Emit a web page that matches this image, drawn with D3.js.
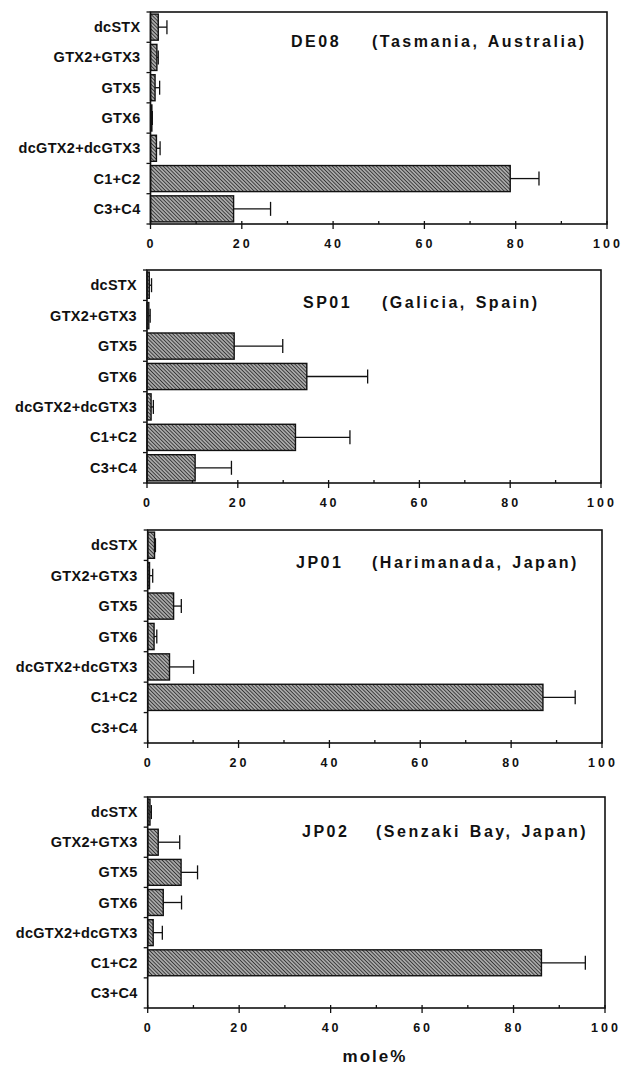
<!DOCTYPE html>
<html>
<head>
<meta charset="utf-8">
<script src="https://cdn.jsdelivr.net/npm/d3@7"></script>
<style>
  body { margin: 0; background: #fff; }
  svg { display: block; }
  text { font-family: "Liberation Sans", Arial, sans-serif; font-weight: bold; fill: #111; }
</style>
</head>
<body>
<div id="chart"></div>
<script>
// toxin profiles (mole%), mean and SD
var categories = ["dcSTX", "GTX2+GTX3", "GTX5", "GTX6", "dcGTX2+dcGTX3", "C1+C2", "C3+C4"];
var sites = ["DE08", "SP01", "JP01", "JP02"];
var locations = ["(Tasmania,  Australia)", "(Galicia,  Spain)", "(Harimanada,  Japan)", "(Senzaki  Bay,  Japan)"];

var de08Mean = [1.7, 1.4, 1.0, 0.3, 1.3, 78.8, 18.2];
var de08Sd   = [1.9, 0.3, 1.0, 0.1, 0.8, 6.3, 8.1];
var sp01Mean = [0.5, 0.4, 19.2, 35.2, 0.9, 32.7, 10.6];
var sp01Sd   = [0.5, 0.3, 10.7, 13.4, 0.5, 12.0, 8.0];
var jp01Mean = [1.5, 0.4, 5.7, 1.4, 4.8, 87.0, 0];
var jp01Sd   = [0.2, 0.7, 1.7, 0.6, 5.3, 7.1, 0];
var jp02Mean = [0.5, 2.3, 7.3, 3.4, 1.2, 86.1, 0];
var jp02Sd   = [0.3, 4.7, 3.6, 4.0, 2.0, 9.6, 0];

var xTicks = [0, 20, 40, 60, 80, 100];
var xMinorTicks = [10, 30, 50, 70, 90];

var means = [de08Mean, sp01Mean, jp01Mean, jp02Mean];
var sds = [de08Sd, sp01Sd, jp01Sd, jp02Sd];

// panel frames (scanned figure is slightly skewed, so each differs a bit)
var frames = [
  {left: 150.5, top: 12, right: 607, bottom: 224, codeX: 291, locX: 372, titleY: 47},
  {left: 147, top: 270, right: 601, bottom: 483, codeX: 303, locX: 382, titleY: 308},
  {left: 147.7, top: 530, right: 602, bottom: 743, codeX: 296, locX: 372, titleY: 568},
  {left: 147.7, top: 797, right: 605, bottom: 1008, codeX: 302, locX: 376, titleY: 837}
];

var svg = d3.select("#chart").append("svg")
  .attr("width", 623)
  .attr("height", 1067);

var defs = svg.append("defs");
var pat = defs.append("pattern")
  .attr("id", "hatch")
  .attr("patternUnits", "userSpaceOnUse")
  .attr("width", 2.6).attr("height", 2.6)
  .attr("patternTransform", "rotate(-45)");
pat.append("rect").attr("width", 2.6).attr("height", 2.6).attr("fill", "#a8a8a8");
pat.append("line").attr("x1", 0).attr("y1", 0).attr("x2", 0).attr("y2", 2.6)
  .attr("stroke", "#222").attr("stroke-width", 1.5);

frames.forEach(function (f, p) {
  var x = d3.scaleLinear().domain([0, 100]).range([f.left, f.right]);
  var y = d3.scaleBand().domain(categories).range([f.top, f.bottom]).paddingInner(0.14).paddingOuter(0.07);
  var yb = d3.scaleBand().domain(categories).range([f.top, f.bottom]);

  var g = svg.append("g").attr("class", "panel");

  var rows = categories.map(function (c, i) {
    return {cat: c, mean: means[p][i], sd: sds[p][i]};
  });

  // bars
  g.selectAll(".bar").data(rows.filter(function (d) { return d.mean > 0; }))
    .enter().append("rect")
    .attr("class", "bar")
    .attr("x", x(0))
    .attr("y", function (d) { return y(d.cat); })
    .attr("width", function (d) { return x(d.mean) - x(0); })
    .attr("height", y.bandwidth())
    .attr("fill", "url(#hatch)")
    .attr("stroke", "#111")
    .attr("stroke-width", 1.4);

  // error bars
  var err = g.selectAll(".err").data(rows.filter(function (d) { return d.sd > 0; }))
    .enter().append("g").attr("class", "err");
  err.append("line")
    .attr("x1", function (d) { return x(d.mean); })
    .attr("x2", function (d) { return x(d.mean + d.sd); })
    .attr("y1", function (d) { return y(d.cat) + y.bandwidth() / 2; })
    .attr("y2", function (d) { return y(d.cat) + y.bandwidth() / 2; })
    .attr("stroke", "#111").attr("stroke-width", 1.3);
  err.append("line")
    .attr("x1", function (d) { return x(d.mean + d.sd); })
    .attr("x2", function (d) { return x(d.mean + d.sd); })
    .attr("y1", function (d) { return y(d.cat) + y.bandwidth() / 2 - 7; })
    .attr("y2", function (d) { return y(d.cat) + y.bandwidth() / 2 + 7; })
    .attr("stroke", "#111").attr("stroke-width", 1.3);

  // frame
  g.append("rect")
    .attr("x", f.left).attr("y", f.top)
    .attr("width", f.right - f.left).attr("height", f.bottom - f.top)
    .attr("fill", "none").attr("stroke", "#111").attr("stroke-width", 1.6);

  // y ticks on band boundaries
  var bounds = categories.map(function (c) { return yb(c); }).concat([f.bottom]);
  g.selectAll(".ytick").data(bounds).enter().append("line")
    .attr("x1", f.left - 4).attr("x2", f.left)
    .attr("y1", function (d) { return d; }).attr("y2", function (d) { return d; })
    .attr("stroke", "#111").attr("stroke-width", 1.3);

  // category labels
  g.selectAll(".ylab").data(categories).enter().append("text")
    .attr("x", f.left - 10)
    .attr("y", function (d) { return yb(d) + yb.bandwidth() / 2 + 5; })
    .attr("text-anchor", "end")
    .style("font-size", "14.5px")
    .style("letter-spacing", "0.3px")
    .text(function (d) { return d; });

  // x axis ticks
  g.selectAll(".xmaj").data(xTicks).enter().append("line")
    .attr("x1", function (d) { return x(d); }).attr("x2", function (d) { return x(d); })
    .attr("y1", f.bottom - 3).attr("y2", f.bottom + 5)
    .attr("stroke", "#111").attr("stroke-width", 1.3);
  g.selectAll(".xmin").data(xMinorTicks).enter().append("line")
    .attr("x1", function (d) { return x(d); }).attr("x2", function (d) { return x(d); })
    .attr("y1", f.bottom - 3).attr("y2", f.bottom)
    .attr("stroke", "#111").attr("stroke-width", 1.3);
  g.selectAll(".xlab").data(xTicks).enter().append("text")
    .attr("x", function (d) { return x(d) + 1; })
    .attr("y", f.bottom + 24)
    .attr("text-anchor", "middle")
    .style("font-size", "12.5px")
    .style("letter-spacing", "3px")
    .text(function (d) { return d; });

  // titles
  g.append("text")
    .attr("x", f.codeX).attr("y", f.titleY)
    .style("font-size", "16px")
    .style("letter-spacing", "2.5px")
    .text(sites[p]);
  g.append("text")
    .attr("x", f.locX).attr("y", f.titleY)
    .style("font-size", "16px")
    .style("letter-spacing", "2.5px")
    .style("word-spacing", "2px")
    .text(locations[p]);
});

svg.append("text")
  .attr("x", 375).attr("y", 1062)
  .attr("text-anchor", "middle")
  .style("font-size", "17px")
  .style("letter-spacing", "2px")
  .text("mole%");
</script>
</body>
</html>
